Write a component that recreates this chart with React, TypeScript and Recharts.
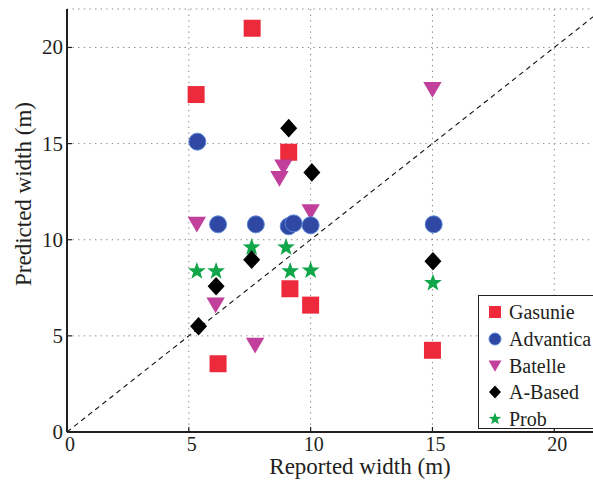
import {
  CartesianGrid,
  ReferenceLine,
  Scatter,
  ScatterChart,
  XAxis,
  YAxis,
} from "recharts";

// values (reported width, predicted width) in metres
const gasunie = [
  { x: 7.6, y: 21.0 },
  { x: 5.3, y: 17.55 },
  { x: 9.1, y: 14.55 },
  { x: 9.15, y: 7.45 },
  { x: 10.0, y: 6.6 },
  { x: 6.2, y: 3.55 },
  { x: 15.0, y: 4.25 },
];
const advantica = [
  { x: 5.35, y: 15.1 },
  { x: 6.2, y: 10.8 },
  { x: 7.75, y: 10.8 },
  { x: 9.1, y: 10.7 },
  { x: 9.3, y: 10.85 },
  { x: 10.0, y: 10.75 },
  { x: 15.05, y: 10.8 },
];
const batelle = [
  { x: 5.33, y: 10.8 },
  { x: 8.88, y: 13.78 },
  { x: 8.72, y: 13.18 },
  { x: 10.0, y: 11.45 },
  { x: 15.0, y: 17.8 },
  { x: 6.1, y: 6.6 },
  { x: 7.72, y: 4.5 },
];
const aBased = [
  { x: 9.1, y: 15.8 },
  { x: 10.05, y: 13.5 },
  { x: 7.58, y: 8.96 },
  { x: 6.12, y: 7.58 },
  { x: 5.4, y: 5.5 },
  { x: 15.02, y: 8.88 },
];
const prob = [
  { x: 5.33, y: 8.36 },
  { x: 6.12, y: 8.36 },
  { x: 7.58, y: 9.6 },
  { x: 8.99, y: 9.6 },
  { x: 9.16, y: 8.36 },
  { x: 10.0, y: 8.4 },
  { x: 15.02, y: 7.75 },
];
const axisTicks = [0, 5, 10, 15, 20];
const diagonal = [
  { x: 0, y: 0 },
  { x: 22, y: 22 },
];

const FONT = "Liberation Serif, DejaVu Serif, serif";
const INK = "#231f20";

type Kind = "square" | "circle" | "tri" | "diamond" | "star";

function Marker({ kind, cx, cy, s }: { kind: Kind; cx: number; cy: number; s: number }) {
  const h = s / 2;
  if (kind === "square")
    return <rect x={cx - h} y={cy - h} width={s} height={s} fill="#ec2a3c" />;
  if (kind === "circle")
    return <circle cx={cx} cy={cy} r={h} fill="#2f48a3" stroke="#5b86d6" strokeWidth={1} />;
  if (kind === "tri")
    return (
      <polygon
        points={`${cx - h * 1.08},${cy - h * 0.9} ${cx + h * 1.08},${cy - h * 0.9} ${cx},${cy + h * 0.95}`}
        fill="#c0409c"
      />
    );
  if (kind === "diamond")
    return (
      <polygon
        points={`${cx},${cy - h * 1.1} ${cx + h},${cy} ${cx},${cy + h * 1.1} ${cx - h},${cy}`}
        fill="#000"
      />
    );
  const pts: string[] = [];
  for (let i = 0; i < 10; i++) {
    const r = i % 2 === 0 ? h * 1.1 : h * 0.45;
    const a = -Math.PI / 2 + (i * Math.PI) / 5;
    pts.push(`${cx + r * Math.cos(a)},${cy + r * Math.sin(a)}`);
  }
  return <polygon points={pts.join(" ")} fill="#12a64b" />;
}

const series: { name: string; kind: Kind; data: { x: number; y: number }[] }[] = [
  { name: "Gasunie", kind: "square", data: gasunie },
  { name: "Batelle", kind: "tri", data: batelle },
  { name: "Advantica", kind: "circle", data: advantica },
  { name: "Prob", kind: "star", data: prob },
  { name: "A-Based", kind: "diamond", data: aBased },
];
const legendOrder = ["Gasunie", "Advantica", "Batelle", "A-Based", "Prob"];

const BottomTick = (p: any) => (
  <g>
    <line x1={p.x} y1={p.y} x2={p.x} y2={p.y - 5} stroke={INK} strokeWidth={1.2} />
    <text x={p.x + 3} y={p.y + 12} textAnchor="middle" dominantBaseline="central" fontSize={20} fill={INK} style={{ fontFamily: FONT }}>
      {p.payload.value}
    </text>
  </g>
);
const TopTick = (p: any) => (
  <line x1={p.x} y1={p.y} x2={p.x} y2={p.y + 5} stroke={INK} strokeWidth={1.2} />
);
const LeftTick = (p: any) => (
  <g>
    <line x1={p.x} y1={p.y} x2={p.x + 5} y2={p.y} stroke={INK} strokeWidth={1.2} />
    <text x={p.x - 4} y={p.y} textAnchor="end" dominantBaseline="central" fontSize={21} fill={INK} style={{ fontFamily: FONT }}>
      {p.payload.value}
    </text>
  </g>
);

export default function App() {
  return (
    <div style={{ position: "absolute", left: 0, top: 0, width: 593, height: 482, overflow: "hidden", background: "#fff", fontFamily: FONT }}>
      <ScatterChart width={610} height={482} margin={{ top: 9, right: 7, bottom: 0, left: 0 }} style={{ fontFamily: FONT }}>
        <CartesianGrid stroke="#8a8a8a" strokeDasharray="1.4 4.2" />
        <XAxis
          type="number"
          dataKey="x"
          domain={[0, 22]}
          ticks={axisTicks}
          allowDataOverflow
          height={50}
          tickSize={0}
          tickMargin={0}
          tickLine={false}
          tick={BottomTick}
          axisLine={{ stroke: INK, strokeWidth: 2 }}
          label={{
            content: () => (
              <text x={360} y={466} textAnchor="middle" dominantBaseline="central" fontSize={23} fill={INK} style={{ fontFamily: FONT }}>
                Reported width (m)
              </text>
            ),
          }}
        />
        <XAxis
          xAxisId="top"
          orientation="top"
          type="number"
          domain={[0, 22]}
          ticks={axisTicks}
          allowDataOverflow
          height={0}
          tickSize={0}
          tickMargin={0}
          tickLine={false}
          tick={TopTick}
          axisLine={{ stroke: INK, strokeWidth: 2 }}
        />
        <YAxis
          type="number"
          dataKey="y"
          domain={[0, 22]}
          ticks={axisTicks}
          allowDataOverflow
          width={67}
          tickSize={0}
          tickMargin={0}
          tickLine={false}
          tick={LeftTick}
          axisLine={{ stroke: INK, strokeWidth: 2 }}
          label={{
            content: () => (
              <text
                x={23}
                y={194}
                transform="rotate(-90, 23, 194)"
                textAnchor="middle"
                dominantBaseline="central"
                fontSize={23}
                fill={INK}
                style={{ fontFamily: FONT }}
              >
                Predicted width (m)
              </text>
            ),
          }}
        />
        <ReferenceLine segment={diagonal} stroke="#111" strokeWidth={1.1} strokeDasharray="5 4" ifOverflow="hidden" />
        {series.map((s) => (
          <Scatter
            key={s.name}
            name={s.name}
            data={s.data}
            isAnimationActive={false}
            shape={(p: any) => <Marker kind={s.kind} cx={p.cx} cy={p.cy} s={17} />}
          />
        ))}
      </ScatterChart>
      <div
        style={{
          position: "absolute",
          left: 478,
          top: 295,
          width: 130,
          height: 134,
          border: `1px solid ${INK}`,
          background: "#fff",
          boxSizing: "border-box",
          paddingTop: 3,
          fontFamily: FONT,
          fontSize: 20,
          color: INK,
        }}
      >
        {legendOrder.map((name) => {
          const s = series.find((q) => q.name === name)!;
          return (
            <div key={name} style={{ display: "flex", alignItems: "center", height: 26.7 }}>
              <svg width={30} height={26} style={{ flex: "none" }}>
                <Marker kind={s.kind} cx={16} cy={13} s={12} />
              </svg>
              <span style={{ lineHeight: "26px" }}>{name}</span>
            </div>
          );
        })}
      </div>
    </div>
  );
}
